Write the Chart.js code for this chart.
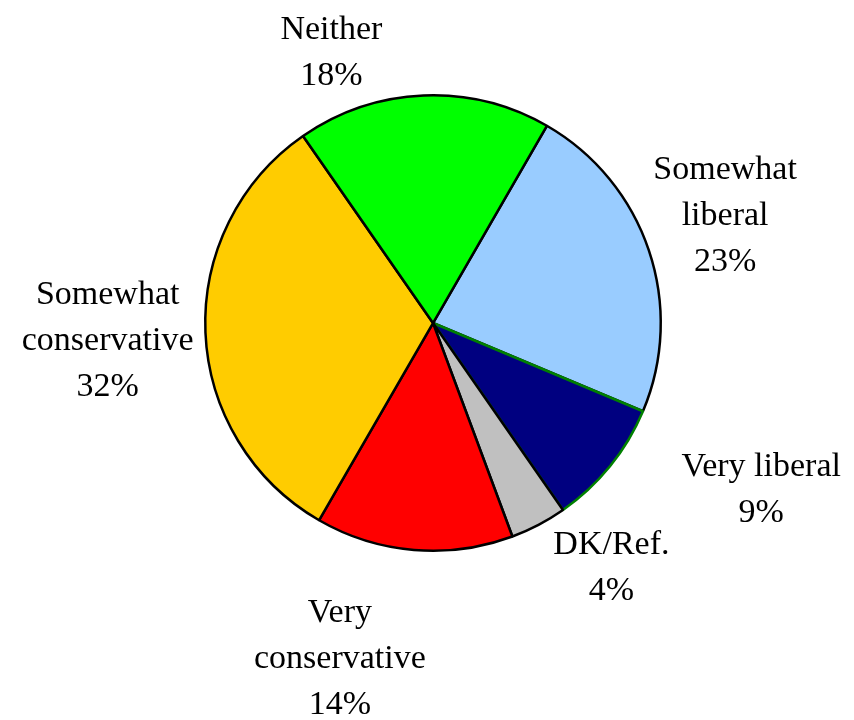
<!DOCTYPE html>
<html>
<head>
<meta charset="utf-8">
<script src="https://cdn.jsdelivr.net/npm/chart.js@4"></script>
<style>
  body { margin: 0; background: #fff; }
  #wrap { width: 854px; height: 720px; }
</style>
</head>
<body>
<div id="wrap"><canvas id="ideologyPie" width="854" height="720"></canvas></div>
<script>
// Political ideology pie (values in %)
const categories = ['Somewhat liberal', 'Very liberal', 'DK/Ref.', 'Very conservative', 'Somewhat conservative', 'Neither'];
const labelLines = [['Somewhat', 'liberal'], ['Very liberal'], ['DK/Ref.'], ['Very', 'conservative'], ['Somewhat', 'conservative'], ['Neither']];
const shares = [23, 9, 4, 14, 32, 18];
const sliceColors = ['#99CCFF', '#000080', '#C0C0C0', '#FF0000', '#FFCC00', '#00FF00'];
const edgeColors = ['#000000', '#008000', '#000000', '#000000', '#000000', '#000000'];

// where each label block sits: [angle from top in degrees, distance as multiple of radius]
const labelSpots = [[69.4, 1.37], [116.5, 1.61], [143.6, 1.32], [195.6, 1.52], [267.4, 1.43], [339.6, 1.28]];

const outsideLabels = {
    id: 'outsideLabels',
    afterDatasetsDraw(chart) {
        const ctx = chart.ctx;
        const arcs = chart.getDatasetMeta(0).data;
        ctx.save();
        ctx.font = '34px "Liberation Serif", "Times New Roman", serif';
        ctx.fillStyle = '#000';
        ctx.textAlign = 'center';
        ctx.textBaseline = 'middle';
        const lineH = 46;
        arcs.forEach((arc, i) => {
            const lines = labelLines[i].concat([shares[i] + '%']);
            const a = labelSpots[i][0] * Math.PI / 180;
            const d = arc.outerRadius * labelSpots[i][1];
            const cx = arc.x + Math.sin(a) * d;
            const cy = arc.y - Math.cos(a) * d + 3;
            const top = cy - (lines.length - 1) * lineH / 2;
            lines.forEach((t, k) => ctx.fillText(t, cx, top + k * lineH));
        });
        ctx.restore();
    }
};

const pieCtx = document.getElementById('ideologyPie').getContext('2d');
new Chart(pieCtx, {
    type: 'pie',
    data: {
        labels: categories,
        datasets: [{
            data: shares,
            backgroundColor: sliceColors,
            borderColor: edgeColors,
            borderWidth: 2.5
        }]
    },
    options: {
        responsive: false,
        animation: false,
        rotation: 30,
        layout: { padding: { left: 204, right: 192, top: 94, bottom: 168 } },
        plugins: {
            legend: { display: false },
            tooltip: { enabled: false }
        }
    },
    plugins: [outsideLabels]
});
</script>
</body>
</html>
